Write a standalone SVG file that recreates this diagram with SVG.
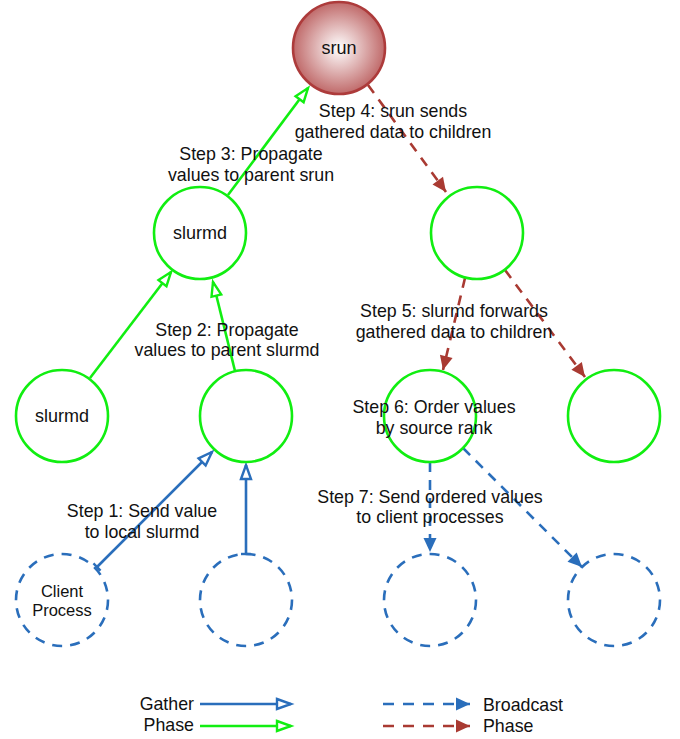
<svg xmlns="http://www.w3.org/2000/svg" width="680" height="739" viewBox="0 0 680 739">
<style>
text{font-family:"Liberation Sans",Arial,Helvetica,sans-serif;fill:#111;text-anchor:middle}
.lbl{font-size:17.8px}
.nl{font-size:18px}
.g{fill:none;stroke:#11ee11;stroke-width:2.6}
.bd{fill:none;stroke:#2a6ebb;stroke-width:2.6;stroke-dasharray:10 8}
.bs{fill:none;stroke:#2a6ebb;stroke-width:2.6}
.rd{fill:none;stroke:#a93a32;stroke-width:2.6;stroke-dasharray:10 8}
.ld{stroke-dasharray:11 9}
.leg{font-size:17.8px;text-anchor:start}
</style>
<defs>
<radialGradient id="sg" cx="50%" cy="50%" r="50%">
<stop offset="0" stop-color="#ffffff"/>
<stop offset="1" stop-color="#c06a6a"/>
</radialGradient>
<marker id="ob" markerUnits="userSpaceOnUse" markerWidth="18" markerHeight="14" refX="15" refY="6" orient="auto" overflow="visible">
<path d="M1,1 L15,6 L1,11 Z" fill="#fff" stroke="#2a6ebb" stroke-width="2.4"/>
</marker>
<marker id="og" markerUnits="userSpaceOnUse" markerWidth="18" markerHeight="14" refX="15" refY="6" orient="auto" overflow="visible">
<path d="M1,1 L15,6 L1,11 Z" fill="#fff" stroke="#11ee11" stroke-width="2.4"/>
</marker>
<marker id="fb" markerUnits="userSpaceOnUse" markerWidth="16" markerHeight="14" refX="14" refY="6.5" orient="auto" overflow="visible">
<path d="M0,0 L14,6.5 L0,13 Z" fill="#2a6ebb"/>
</marker>
<marker id="fr" markerUnits="userSpaceOnUse" markerWidth="16" markerHeight="14" refX="14" refY="6.5" orient="auto" overflow="visible">
<path d="M0,0 L14,6.5 L0,13 Z" fill="#a93a32"/>
</marker>
<marker id="tk" markerUnits="userSpaceOnUse" markerWidth="4" markerHeight="12" refX="1" refY="5" orient="auto" overflow="visible">
<path d="M1,0 L1,10" stroke="#2a6ebb" stroke-width="2.4"/>
</marker>
</defs>

<g id="connectors">
<line class="bs" x1="97" y1="567" x2="212" y2="452" marker-start="url(#tk)" marker-end="url(#ob)"/>
<line class="bs" x1="246" y1="554" x2="246" y2="465" marker-start="url(#tk)" marker-end="url(#ob)"/>
<line class="g" x1="90" y1="378" x2="171" y2="272" marker-end="url(#og)"/>
<line class="g" x1="235" y1="371" x2="213" y2="282" marker-end="url(#og)"/>
<line class="g" x1="228" y1="195" x2="308" y2="88" marker-end="url(#og)"/>
<line class="rd" x1="368" y1="85" x2="446" y2="192" marker-end="url(#fr)"/>
<line class="rd" x1="465" y1="278" x2="443" y2="370" marker-end="url(#fr)"/>
<line class="rd" x1="505" y1="270" x2="585" y2="377" marker-end="url(#fr)"/>
<line class="bd" x1="430" y1="462" x2="430" y2="552" marker-end="url(#fb)"/>
<line class="bd" x1="463" y1="448" x2="582" y2="567" marker-end="url(#fb)"/>
</g>

<g id="srun">
<circle cx="339" cy="48" r="46" fill="url(#sg)" stroke="#ad3b3b" stroke-width="2.6"/>
<text class="nl" x="339" y="54">srun</text>
</g>
<g id="slurmd-l2">
<circle class="g" cx="200" cy="233" r="46"/>
<text class="nl" x="200" y="239">slurmd</text>
</g>
<g id="slurmd-r2">
<circle class="g" cx="477" cy="233" r="46"/>
</g>
<g id="slurmd-a3">
<circle class="g" cx="62" cy="416" r="46"/>
<text class="nl" x="62" y="422">slurmd</text>
</g>
<g id="slurmd-b3">
<circle class="g" cx="246" cy="416" r="46"/>
</g>
<g id="slurmd-c3">
<circle class="g" cx="430" cy="416" r="46"/>
</g>
<g id="slurmd-d3">
<circle class="g" cx="614" cy="416" r="46"/>
</g>
<g id="client-a">
<circle class="bd" cx="62" cy="600" r="46"/>
<text x="62" y="597" style="font-size:16.5px">Client</text>
<text x="62" y="616" style="font-size:16.5px">Process</text>
</g>
<g id="client-b">
<circle class="bd" cx="246" cy="600" r="46"/>
</g>
<g id="client-c">
<circle class="bd" cx="430" cy="600" r="46"/>
</g>
<g id="client-d">
<circle class="bd" cx="614" cy="600" r="46"/>
</g>

<g id="labels">
<text class="lbl" x="142" y="517">Step 1: Send value</text>
<text class="lbl" x="142" y="538">to local slurmd</text>
<text class="lbl" x="227" y="336">Step 2: Propagate</text>
<text class="lbl" x="227" y="356">values to parent slurmd</text>
<text class="lbl" x="251" y="160">Step 3: Propagate</text>
<text class="lbl" x="251" y="181">values to parent srun</text>
<text class="lbl" x="393" y="117">Step 4: srun sends</text>
<text class="lbl" x="393" y="138">gathered data to children</text>
<text class="lbl" x="454" y="317">Step 5: slurmd forwards</text>
<text class="lbl" x="454" y="338">gathered data to children</text>
<text class="lbl" x="434" y="413">Step 6: Order values</text>
<text class="lbl" x="434" y="434">by source rank</text>
<text class="lbl" x="430" y="503">Step 7: Send ordered values</text>
<text class="lbl" x="430" y="523">to client processes</text>
</g>

<g id="legend">
<text class="lbl" x="194" y="710" style="text-anchor:end">Gather</text>
<text class="lbl" x="194" y="731" style="text-anchor:end">Phase</text>
<line class="bs" x1="200" y1="704" x2="291" y2="704" marker-end="url(#ob)"/>
<line class="g" x1="200" y1="726" x2="291" y2="726" marker-end="url(#og)"/>
<line class="bd ld" x1="383" y1="704" x2="470" y2="704" marker-end="url(#fb)"/>
<line class="rd ld" x1="383" y1="726" x2="470" y2="726" marker-end="url(#fr)"/>
<text class="leg" x="483" y="711">Broadcast</text>
<text class="leg" x="483" y="732">Phase</text>
</g>
</svg>
